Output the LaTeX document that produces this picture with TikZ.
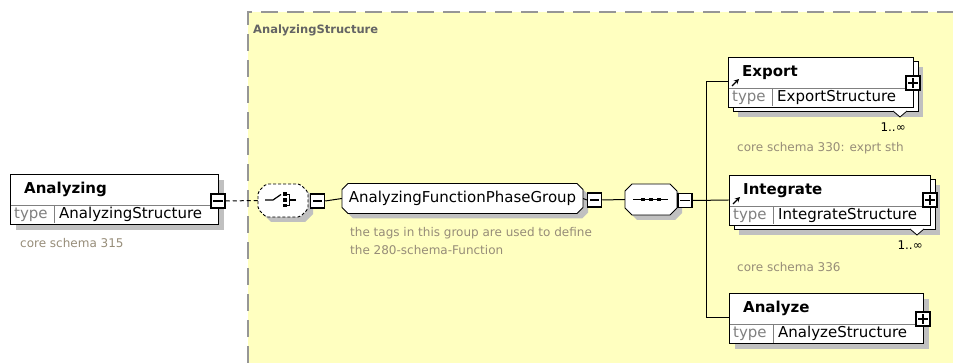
\documentclass[tikz,border=0pt]{standalone}
\usepackage{fontspec}
\setmainfont{DejaVu Sans}
\usetikzlibrary{arrows.meta}
\definecolor{grpfill}{RGB}{255,255,192}
\definecolor{shadowc}{RGB}{192,192,192}
\definecolor{borderc}{RGB}{150,150,150}
\definecolor{annot}{RGB}{150,140,120}
\definecolor{typec}{RGB}{128,128,128}
\definecolor{gtitlec}{RGB}{100,100,100}
\newcommand\mainf{\fontsize{15}{18}\selectfont}
\newcommand\titlef{\fontsize{15}{18}\selectfont\bfseries}
\newcommand\annotf{\fontsize{12}{18}\selectfont}
\newcommand\elembox[8]{%
  \pgfmathsetmacro\elW{#4-#2}%
  \pgfmathsetmacro\elH{#5-#3}%
  \pgfmathsetmacro\elCX{(#2+#4)/2}%
  \pgfmathsetmacro\elCY{(#3+#5)/2}%
  \pgfmathsetmacro\elD{#3+31}%
  \pgfmathsetmacro\elT{(#3+31+#5)/2}%
  \ifnum#8=1
    \fill[shadowc] (#2+10,#3+10) rectangle (#4+10,#5+10);
    \draw[fill=white, line width=0.8pt] (#2+5,#3+4) rectangle (#4+5,#5+4);
    \draw[fill=white, line width=0.8pt] (#4-20,#5+4) -- (#4-13,#5+10) -- (#4-6,#5+4);
  \else
    \fill[shadowc] (#2+6,#3+6) rectangle (#4+6,#5+6);
  \fi
  \node[elem, minimum width=\elW pt, minimum height=\elH pt] (#1) at (\elCX,\elCY) {};
  \draw[typec, line width=0.6pt] (#2+0.5,\elD) -- (#4-0.5,\elD) (#2+44,\elD) -- (#2+44,#5-0.5);
  \node[txt, anchor=west, font=\titlef] (#1-t) at (#2+14,#3+15.5) {#6};
  \node[txt, anchor=west, font=\mainf, text=typec] (#1-k) at (#2+4,\elT) {type};
  \node[txt, anchor=west, font=\mainf] (#1-v) at (#2+49,\elT) {#7};
}
% octagon compositor / group shape: name, cx, cy, w, h, chamfer, path style, text
\newcommand\octa[8]{%
  \pgfmathsetmacro\oL{#2-#4/2}%
  \pgfmathsetmacro\oR{#2+#4/2}%
  \pgfmathsetmacro\oT{#3-#5/2}%
  \pgfmathsetmacro\oB{#3+#5/2}%
  \begin{scope}[shift={(5,5)}]
    \fill[shadowc] (\oL+#6,\oT) -- (\oR-#6,\oT) -- (\oR,\oT+#6) -- (\oR,\oB-#6) -- (\oR-#6,\oB)
      -- (\oL+#6,\oB) -- (\oL,\oB-#6) -- (\oL,\oT+#6) -- cycle;
  \end{scope}
  \path[#7] (\oL+#6,\oT) -- (\oR-#6,\oT) -- (\oR,\oT+#6) -- (\oR,\oB-#6) -- (\oR-#6,\oB)
      -- (\oL+#6,\oB) -- (\oL,\oB-#6) -- (\oL,\oT+#6) -- cycle;
  \node[inner sep=0pt, minimum width=#4 pt, minimum height=#5 pt, font=\mainf] (#1) at (#2,#3) {#8};
}
\newcommand\pmsign[2]{%
  \draw[line width=1.1pt] ([xshift=3pt]#1.west) -- ([xshift=-3pt]#1.east);
  \ifnum#2=1 \draw[line width=1.1pt] ([yshift=-3pt]#1.north) -- ([yshift=3pt]#1.south); \fi
}
\begin{document}
\begin{tikzpicture}[x=1pt,y=-1pt,
  elem/.style={draw, fill=white, line width=0.9pt, inner sep=0pt},
  txt/.style={inner sep=0pt},
  pm/.style={draw, fill=white, line width=1.5pt, minimum size=14pt, inner sep=0pt},
  conn/.style={line width=1pt},
  octline/.style={draw, fill=white, line width=0.9pt},
  refarrow/.style={line width=1.4pt, -{Stealth[length=5pt,width=5pt]}},
]
\useasboundingbox (0,0) rectangle (953,363);
% group background
\fill[grpfill] (248,12) rectangle (953,363);
\draw[borderc, line width=1.6pt, dash pattern=on 17pt off 9pt] (248,363) -- (248,12) -- (953,12);
\node[txt, anchor=west, font=\fontsize{11.5}{13}\selectfont\bfseries, text=gtitlec] (gtitle) at (253,30) {AnalyzingStructure};

% Analyzing element
\elembox{an}{10}{174}{218}{224}{Analyzing}{AnalyzingStructure}{0}
\node[pm] (anP) at (218,201) {}; \pmsign{anP}{0}
\node[txt, anchor=west, font=\annotf, text=annot] (anD) at (20,243) {core schema 315};

% choice compositor (optional)
\octa{ch}{283}{200.5}{50}{33}{8}{octline, dash pattern=on 3pt off 2pt, rounded corners=2pt}{}
\draw[line width=1.2pt] (265,200) -- (273,200) -- (281,194.5);
\fill (283,192.5) rectangle (286.5,196);
\fill (283,198.3) rectangle (286.5,201.8);
\fill (283,204) rectangle (286.5,207.5);
\draw[line width=1.1pt] (286.5,194.3) -- (289.5,194.3) -- (289.5,205.8) -- (286.5,205.8) (289.5,200) -- (296,200);
\node[pm] (chM) at (317.5,201) {}; \pmsign{chM}{0}

% group reference
\octa{grp}{462.5}{198.5}{241}{30}{6}{octline}{AnalyzingFunctionPhaseGroup}
\node[pm] (grpM) at (594.5,200) {}; \pmsign{grpM}{0}
\node[txt, anchor=west, align=left, font=\annotf, text=annot] (grpD) at (350,241)
  {the tags in this group are used to define\\the 280-schema-Function};

% sequence compositor
\octa{seq}{651}{199.5}{52}{31}{7}{octline}{}
\draw[line width=1pt] (633,199.5) -- (668,199.5);
\fill (641.3,197.8) rectangle (644.7,201.2);
\fill (649.3,197.8) rectangle (652.7,201.2);
\fill (657.3,197.8) rectangle (660.7,201.2);
\node[pm] (seqM) at (685,200.5) {}; \pmsign{seqM}{0}

% children
\elembox{ex}{728}{57}{913}{107}{Export}{ExportStructure}{1}
\node[pm] (exP) at (913,83) {}; \pmsign{exP}{1}
\draw[refarrow] (732,86) -- (739,79);
\node[txt, anchor=east, font=\annotf] (exM) at (906,127) {1..∞};
\node[txt, anchor=west, font=\annotf, text=annot] (exD) at (737,148) {core schema 330: exprt sth};

\elembox{in}{729}{175}{930}{225}{Integrate}{IntegrateStructure}{1}
\node[pm] (inP) at (930,200) {}; \pmsign{inP}{1}
\draw[refarrow] (733,204) -- (740,197);
\node[txt, anchor=east, font=\annotf] (inM) at (923,245) {1..∞};
\node[txt, anchor=west, font=\annotf, text=annot] (inD) at (737,267) {core schema 336};

\elembox{az}{729}{293}{923}{343}{Analyze}{AnalyzeStructure}{0}
\node[pm] (azP) at (923,319) {}; \pmsign{azP}{1}

% connectors
\draw[conn, dash pattern=on 4pt off 3pt] (anP.east) -- (ch.west);
\draw[conn] (chM.east) -- (grp.west);
\draw[conn] (grp.east) -- (grpM.west);
\draw[conn] (grpM.east) -- (seq.west);
\coordinate (bus) at (706,200);
\draw[conn] (seqM.east) -- (in.west);
\draw[conn] (bus) |- (ex.west);
\draw[conn] (bus) |- (az.west);
\end{tikzpicture}
\end{document}
